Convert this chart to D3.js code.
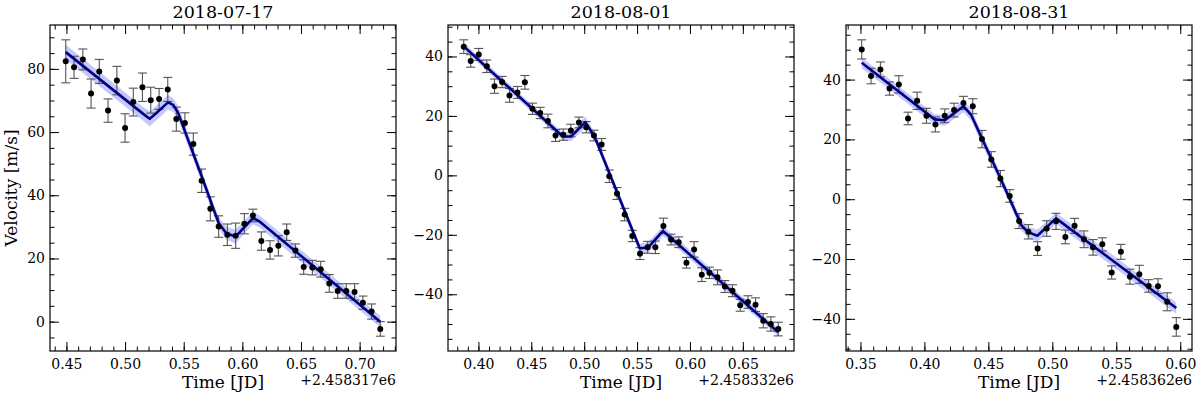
<!DOCTYPE html>
<html>
<head>
<meta charset="utf-8">
<script src="https://cdn.jsdelivr.net/npm/d3@7"></script>
<style>
    body { margin: 0; background: #fff; }
    text { font-family: "DejaVu Serif", serif; fill: #000; }
</style>
</head>
<body>
<script>
// titles and axis offsets
var titles = ['2018-07-17', '2018-08-01', '2018-08-31'];
var offsets = ['+2.458317e6', '+2.458332e6', '+2.458362e6'];

// panel 1 observations (time = JD - offset)
var t1 = [0.4494, 0.4565, 0.4640, 0.4710, 0.4780, 0.4855, 0.4930, 0.5000, 0.5070, 0.5148, 0.5219, 0.5290, 0.5364, 0.5437, 0.5510, 0.5582, 0.5653, 0.5727, 0.5798, 0.5872, 0.5943, 0.6017, 0.6090, 0.6162, 0.6236, 0.6307, 0.6378, 0.6452, 0.6523, 0.6597, 0.6668, 0.6741, 0.6813, 0.6886, 0.6957, 0.7028, 0.7102, 0.7176];
var v1 = [82.4, 80.5, 83.0, 72.2, 79.2, 66.8, 76.3, 61.3, 69.5, 74.2, 70.1, 70.5, 73.5, 64.1, 62.9, 56.2, 44.6, 35.7, 30.1, 27.5, 27.2, 31.0, 33.6, 25.5, 22.7, 24.0, 28.3, 22.5, 17.3, 17.1, 16.6, 12.1, 9.7, 9.7, 9.4, 6.0, 3.2, -2.3];
var e1 = [6.8, 3.5, 3.3, 4.6, 3.8, 3.7, 4.5, 4.5, 4.4, 4.5, 4.1, 3.3, 3.8, 3.8, 3.2, 3.5, 3.7, 3.8, 3.4, 3.4, 4.0, 3.2, 2.0, 2.9, 2.9, 3.2, 2.6, 2.1, 2.3, 2.3, 2.5, 2.8, 2.3, 2.3, 2.6, 2.1, 2.4, 2.3];
// panel 1 model and its uncertainty half-width
var m1t = [0.4494, 0.516, 0.521, 0.526, 0.5366, 0.541, 0.545, 0.551, 0.5653, 0.5798, 0.5863, 0.5942, 0.609, 0.6147, 0.7176];
var m1v = [85.3, 65.6, 64.2, 65.8, 69.4, 68.6, 66.3, 60.3, 46.0, 31.2, 28.0, 26.9, 32.8, 31.7, 0.0];
var m1w = [2.3, 2.2, 2.4, 2.3, 2.3, 2.2, 2.1, 2.0, 1.8, 1.8, 2.0, 2.2, 2.0, 1.9, 1.8];

// panel 2
var t2 = [0.3861, 0.3927, 0.4003, 0.4079, 0.4152, 0.4224, 0.4294, 0.4369, 0.4439, 0.4511, 0.4584, 0.4657, 0.4729, 0.4802, 0.4874, 0.4950, 0.5020, 0.5092, 0.5165, 0.5237, 0.5310, 0.5383, 0.5455, 0.5528, 0.5600, 0.5673, 0.5749, 0.5821, 0.5894, 0.5967, 0.6039, 0.6112, 0.6184, 0.6260, 0.6330, 0.6402, 0.6475, 0.6548, 0.6620, 0.6693, 0.6765, 0.6835];
var v2 = [43.3, 38.5, 40.7, 36.7, 30.0, 31.4, 26.9, 27.9, 31.3, 22.4, 21.0, 18.3, 13.4, 13.7, 15.1, 17.8, 16.2, 13.4, 10.4, -0.3, -6.1, -13.2, -20.4, -26.3, -24.2, -24.2, -17.0, -21.6, -22.5, -29.4, -24.9, -33.4, -32.8, -34.3, -37.4, -38.8, -43.7, -42.6, -43.5, -48.9, -50.0, -51.7];
var e2 = [2.3, 2.1, 2.0, 2.1, 2.4, 1.9, 2.3, 2.0, 2.3, 1.9, 1.9, 2.3, 2.0, 1.9, 2.1, 1.8, 1.9, 1.8, 2.0, 2.1, 2.0, 2.1, 1.9, 2.0, 2.0, 2.1, 2.6, 1.8, 1.8, 1.8, 2.6, 2.3, 1.9, 2.5, 2.0, 2.0, 2.0, 2.1, 2.3, 2.4, 2.4, 2.3];
var m2t = [0.3861, 0.4798, 0.4878, 0.5010, 0.5098, 0.5525, 0.5603, 0.5745, 0.6835];
var m2v = [43.4, 13.1, 13.1, 17.9, 13.1, -24.5, -24.3, -18.7, -52.8];
var m2w = [1.2, 1.3, 1.6, 1.9, 1.5, 1.5, 1.8, 1.6, 1.3];

// panel 3
var t3 = [0.3510, 0.3583, 0.3656, 0.3727, 0.3800, 0.3872, 0.3943, 0.4016, 0.4086, 0.4159, 0.4232, 0.4305, 0.4378, 0.4450, 0.4523, 0.4594, 0.4667, 0.4740, 0.4813, 0.4885, 0.4956, 0.5029, 0.5102, 0.5174, 0.5247, 0.5318, 0.5391, 0.5464, 0.5536, 0.5607, 0.5680, 0.5753, 0.5826, 0.5898, 0.5969];
var v3 = [50.1, 41.2, 43.4, 37.0, 38.4, 27.0, 32.9, 27.9, 25.0, 27.9, 29.8, 32.2, 31.1, 20.1, 13.3, 6.9, 1.1, -7.3, -10.9, -16.5, -9.8, -7.4, -12.6, -8.9, -13.4, -16.1, -15.1, -24.5, -17.6, -25.9, -25.1, -29.0, -29.1, -34.3, -42.7];
var e3 = [3.2, 2.6, 2.5, 2.2, 2.9, 2.1, 2.9, 2.5, 2.5, 2.3, 2.3, 2.2, 2.5, 2.9, 2.6, 2.7, 2.1, 2.5, 2.4, 2.3, 2.6, 2.7, 2.3, 2.5, 2.8, 2.6, 2.2, 2.2, 2.5, 2.5, 3.0, 2.1, 2.5, 3.0, 3.1];
var m3t = [0.3510, 0.4080, 0.4159, 0.4305, 0.4367, 0.4450, 0.4589, 0.4706, 0.4758, 0.4810, 0.4883, 0.5029, 0.5969];
var m3v = [45.6, 26.7, 26.4, 31.1, 28.1, 20.3, 7.5, -3.7, -8.7, -11.0, -12.2, -6.4, -36.4];
var m3w = [1.8, 1.7, 1.8, 2.0, 1.9, 1.8, 1.7, 1.7, 1.8, 1.9, 2.0, 1.9, 1.9];

// tick steps
var xMajorStep = 0.05, xMinorStep = 0.01;
var yMajorStep = 20, yMinorStep = 5;

var panels = [
    { t: t1, v: v1, e: e1, mt: m1t, mv: m1v, mw: m1w },
    { t: t2, v: v2, e: e2, mt: m2t, mv: m2v, mw: m2w },
    { t: t3, v: v3, e: e3, mt: m3t, mv: m3v, mw: m3w }
];

var width = 1200, height = 397;
var lefts = [50, 448, 846];
var top0 = 25, pw = 346, ph = 326;

var svg = d3.select('body').append('svg')
    .attr('width', width)
    .attr('height', height);

panels.forEach(drawPanel);

// matplotlib-like 5% margins
function padded(lo, hi) {
    var m = (hi - lo) * 0.05;
    return [lo - m, hi + m];
}

function stepTicks(domain, step) {
    var k0 = Math.ceil(domain[0] / step - 1e-9),
        k1 = Math.floor(domain[1] / step + 1e-9);
    return d3.range(k0, k1 + 1).map(k => +(k * step).toFixed(6));
}

function drawPanel(p, i) {
    var g = svg.append('g')
        .attr('transform', 'translate(' + lefts[i] + ',' + top0 + ')');

    var xd = padded(d3.min(p.t), d3.max(p.t));
    var lo = Math.min(d3.min(p.v, (d, j) => d - p.e[j]), d3.min(p.mv, (d, j) => d - p.mw[j]));
    var hi = Math.max(d3.max(p.v, (d, j) => d + p.e[j]), d3.max(p.mv, (d, j) => d + p.mw[j]));
    var yd = padded(lo, hi);

    var x = d3.scaleLinear().domain(xd).range([0, pw]);
    var y = d3.scaleLinear().domain(yd).range([ph, 0]);

    var xMajor = stepTicks(xd, xMajorStep),
        xMinor = stepTicks(xd, xMinorStep),
        yMajor = stepTicks(yd, yMajorStep),
        yMinor = stepTicks(yd, yMinorStep);

    // axes: ticks pointing inward on all four sides
    function axis(gen, scale, vals, size, labels, tr) {
        var a = gen(scale).tickValues(vals).tickSize(-size).tickPadding(labels ? (gen === d3.axisLeft ? 5 : 8) : 0);
        a.tickFormat(labels ? (gen === d3.axisLeft ? d3.format('d') : d3.format('.2f')) : '');
        var ag = g.append('g').attr('transform', tr || null).call(a);
        ag.select('.domain').remove();
        ag.attr('font-size', 14).attr('font-family', 'DejaVu Serif');
        ag.selectAll('line').attr('stroke', '#000').attr('stroke-width', 1);
        return ag;
    }
    axis(d3.axisBottom, x, xMinor, 4.5, false, 'translate(0,' + ph + ')');
    axis(d3.axisBottom, x, xMajor, 9, true, 'translate(0,' + ph + ')');
    axis(d3.axisTop, x, xMinor, 4.5, false);
    axis(d3.axisTop, x, xMajor, 9, false);
    axis(d3.axisLeft, y, yMinor, 4.5, false);
    axis(d3.axisLeft, y, yMajor, 9, true);
    axis(d3.axisRight, y, yMinor, 4.5, false, 'translate(' + pw + ',0)');
    axis(d3.axisRight, y, yMajor, 9, false, 'translate(' + pw + ',0)');

    var model = p.mt.map((d, j) => ({ t: d, v: p.mv[j], w: p.mw[j] }));
    var obs = p.t.map((d, j) => ({ t: d, v: p.v[j], e: p.e[j] }));

    // model uncertainty band
    g.append('path')
        .datum(model)
        .attr('fill', 'rgb(110,120,240)')
        .attr('fill-opacity', 0.4)
        .attr('d', d3.area()
            .x(d => x(d.t))
            .y0(d => y(d.v - d.w))
            .y1(d => y(d.v + d.w)));

    // error bars
    var eb = g.append('g').attr('stroke', '#555').attr('stroke-width', 1.1);
    eb.selectAll('.bar').data(obs).enter().append('line')
        .attr('x1', d => x(d.t)).attr('x2', d => x(d.t))
        .attr('y1', d => y(d.v - d.e)).attr('y2', d => y(d.v + d.e));
    eb.selectAll('.capTop').data(obs).enter().append('line')
        .attr('x1', d => x(d.t) - 4.5).attr('x2', d => x(d.t) + 4.5)
        .attr('y1', d => y(d.v + d.e)).attr('y2', d => y(d.v + d.e));
    eb.selectAll('.capBot').data(obs).enter().append('line')
        .attr('x1', d => x(d.t) - 4.5).attr('x2', d => x(d.t) + 4.5)
        .attr('y1', d => y(d.v - d.e)).attr('y2', d => y(d.v - d.e));

    // model line
    g.append('path')
        .datum(model)
        .attr('fill', 'none')
        .attr('stroke', '#00008b')
        .attr('stroke-width', 2.6)
        .attr('stroke-linejoin', 'round')
        .attr('d', d3.line().x(d => x(d.t)).y(d => y(d.v)));

    // observations
    g.selectAll('.pt').data(obs).enter().append('circle')
        .attr('cx', d => x(d.t))
        .attr('cy', d => y(d.v))
        .attr('r', 3)
        .attr('fill', '#000');

    // frame
    g.append('rect')
        .attr('width', pw).attr('height', ph)
        .attr('fill', 'none').attr('stroke', '#000').attr('stroke-width', 1.2);

    g.append('text')
        .attr('x', pw / 2).attr('y', -7)
        .attr('text-anchor', 'middle')
        .attr('font-size', 17.5)
        .text(titles[i]);

    g.append('text')
        .attr('x', pw / 2).attr('y', ph + 37)
        .attr('text-anchor', 'middle')
        .attr('font-size', 17)
        .text('Time [JD]');

    g.append('text')
        .attr('x', pw).attr('y', ph + 34)
        .attr('text-anchor', 'end')
        .attr('font-size', 14)
        .text(offsets[i]);

    if (i == 0) {
        g.append('text')
            .attr('transform', 'translate(-33,' + ph / 2 + ') rotate(-90)')
            .attr('text-anchor', 'middle')
            .attr('font-size', 17)
            .text('Velocity [m/s]');
    }
}
</script>
</body>
</html>
